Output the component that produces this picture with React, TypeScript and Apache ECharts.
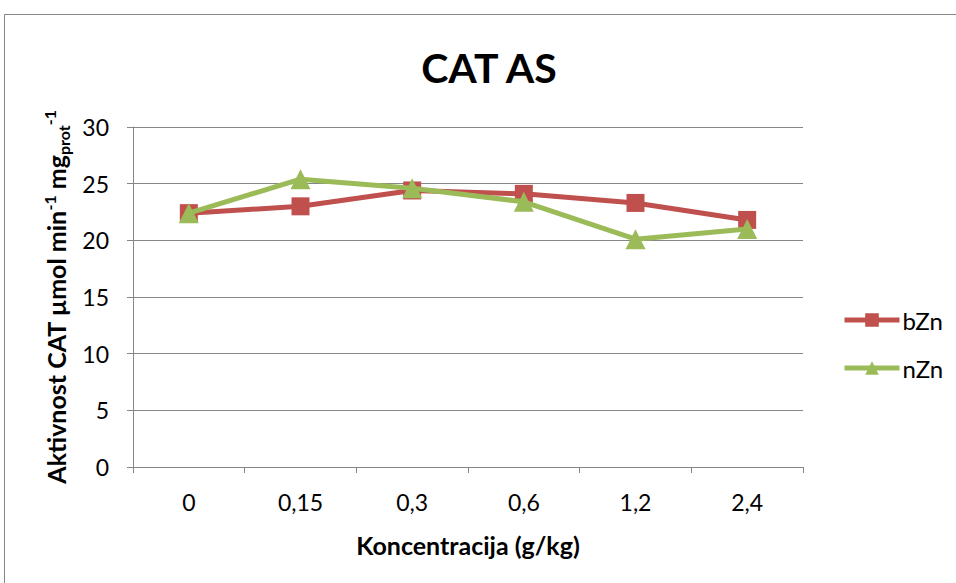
import React, { useEffect, useRef } from "react";
import * as echarts from "echarts";

const categories = ["0", "0,15", "0,3", "0,6", "1,2", "2,4"];
const bZn = [22.4, 23.0, 24.4, 24.1, 23.3, 21.8];
const nZn = [22.4, 25.4, 24.6, 23.4, 20.1, 21.0];
const yTicks = { min: 0, max: 30, interval: 5 };

const FONT = "Lato, 'Open Sans', sans-serif";

export default function App() {
  const ref = useRef<HTMLDivElement>(null);
  useEffect(() => {
    const chart = echarts.init(ref.current!, null, { renderer: "svg" });
    chart.setOption({
      animation: false,
      backgroundColor: "#ffffff",
      textStyle: { fontFamily: FONT },
      title: {
        text: "CAT AS",
        left: 484,
        top: 42,
        textAlign: "center",
        textStyle: { fontSize: 41, fontWeight: "bold", color: "#000", fontFamily: FONT },
      },
      graphic: [
        {
          type: "rect",
          shape: { x: 4.5, y: 14.5, width: 1000, height: 1000 },
          style: { fill: "none", stroke: "#868686", lineWidth: 1 },
          silent: true,
        },
      ],
      legend: {
        orient: "vertical",
        left: 837,
        top: 303,
        itemWidth: 55,
        itemHeight: 17,
        itemGap: 24,
        lineStyle: { width: 5 },
        textStyle: { fontSize: 24, color: "#000", fontFamily: FONT, padding: [0, 0, 0, -2] },
        data: ["bZn", "nZn"],
      },
      grid: { left: 133, right: 153, top: 127, bottom: 116, containLabel: false },
      xAxis: {
        type: "category",
        data: categories,
        boundaryGap: true,
        name: "Koncentracija (g/kg)",
        nameLocation: "middle",
        nameGap: 65,
        nameTextStyle: { fontSize: 25, fontWeight: "bold", color: "#000", fontFamily: FONT },
        axisLine: { lineStyle: { color: "#868686", width: 1 } },
        axisTick: { show: true, alignWithLabel: false, inside: false, length: 6, lineStyle: { color: "#868686" } },
        axisLabel: { fontSize: 23, color: "#000", margin: 23, fontFamily: FONT },
      },
      yAxis: {
        type: "value",
        min: yTicks.min,
        max: yTicks.max,
        interval: yTicks.interval,
        name: "{b|Aktivnost CAT µmol min}{sup|-1}{b| mg}{sub|prot}{sup|-1}",
        nameLocation: "middle",
        nameRotate: 90,
        nameGap: 55,
        nameTextStyle: {
          fontSize: 25,
          fontWeight: "bold",
          color: "#000",
          fontFamily: FONT,
          rich: {
            b: { fontSize: 25, fontWeight: "bold", color: "#000", fontFamily: FONT, lineHeight: 30, verticalAlign: "middle" },
            sup: { fontSize: 16, fontWeight: "bold", color: "#000", fontFamily: FONT, lineHeight: 30, verticalAlign: "top", padding: [0, 0, 14, 0] },
            sub: { fontSize: 16, fontWeight: "bold", color: "#000", fontFamily: FONT, lineHeight: 30, verticalAlign: "bottom", padding: [12, 0, 0, 0] },
          },
        },
        axisLine: { show: true, lineStyle: { color: "#868686", width: 1 } },
        axisTick: { show: true, inside: false, length: 6, lineStyle: { color: "#868686" } },
        splitLine: { show: true, lineStyle: { color: "#868686", width: 1 } },
        axisLabel: { fontSize: 23, color: "#000", margin: 24, fontFamily: FONT },
      },
      series: [
        {
          name: "bZn",
          type: "line",
          data: bZn,
          symbol: "rect",
          symbolSize: 18,
          lineStyle: { color: "#C0504D", width: 5 },
          itemStyle: { color: "#C0504D" },
          z: 2,
        },
        {
          name: "nZn",
          type: "line",
          data: nZn,
          symbol: "triangle",
          symbolSize: 20,
          lineStyle: { color: "#9BBB59", width: 5 },
          itemStyle: { color: "#9BBB59" },
          z: 3,
        },
      ],
    });
    return () => chart.dispose();
  }, []);
  return (
    <div
      ref={ref}
      style={{ position: "fixed", left: 0, top: 0, width: 956, height: 583 }}
    />
  );
}
